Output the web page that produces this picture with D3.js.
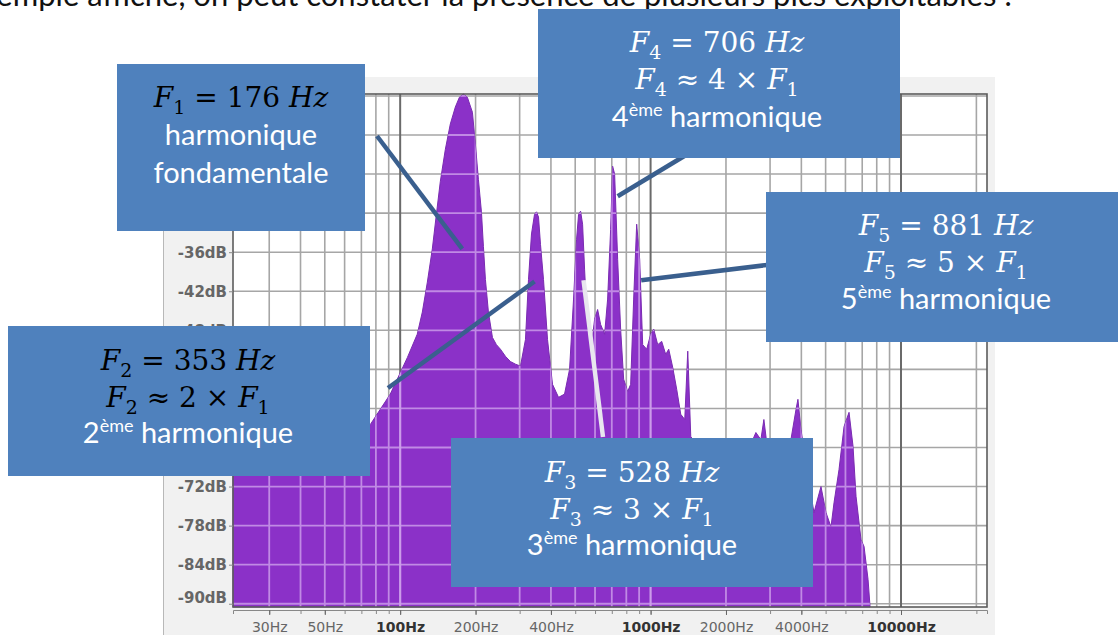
<!DOCTYPE html>
<html>
<head>
<meta charset="utf-8">
<script src="https://cdn.jsdelivr.net/npm/d3@7/dist/d3.min.js"></script>
<style>
	body { margin: 0; background: #fff; }
	svg { display: block; }
	text { white-space: pre; }
</style>
</head>
<body>
<div id="canvas"></div>
<script>
// spectrum: frequency in Hz, level in dB
var freqs = [21.5, 27.6, 39.9, 57.6, 75.9, 91.3, 106.8, 117, 122.6, 128.4, 134.4, 139.5, 144.7, 151.5, 158.6,
	166.1, 172.4, 178.8, 185.5, 194.3, 199.7, 205.3, 211.1, 215, 219, 225.1, 233.6, 242.3, 251.4, 263.3,
	275.7, 288.7, 302.3, 316.5, 325.4, 334.5, 343.9, 350.3, 356.8, 363.4, 373.6, 387.6, 405.9, 429, 453.3,
	474.7, 492.5, 506.3, 515.7, 525.3, 535.1, 545, 560.3, 581.4, 597.6, 614.4, 631.6, 655.3, 673.7, 692.5,
	705.4, 718.5, 738.7, 759.3, 780.6, 809.9, 832.6, 855.9, 879.9, 904.6, 929.9, 964.8, 1001, 1029, 1067.7,
	1107.7, 1149.3, 1181.5, 1225.8, 1271.9, 1319.6, 1369.1, 1407.5, 1446.9, 1515, 1661, 1907, 2190, 2514,
	2633, 2757, 2834, 2914, 3315, 3634, 3806, 3876, 3985, 4211, 4492, 4791, 5017, 5253, 5401, 5655, 5922,
	6201, 6433, 6614, 6925, 7119, 7387, 7524];
var levels = [-69.4, -68.2, -66.3, -64.8, -62.5, -57.8, -52.2, -48.6, -45.2, -40.6, -35.5, -30.2, -25.1, -20.2, -16.3,
	-13.7, -12.2, -11.7, -12.2, -14.5, -19.4, -24.8, -29.8, -35.1, -40.2, -45.2, -49.1, -50.2, -50.9, -52,
	-52.8, -53.2, -53.5, -49.4, -40.2, -33.2, -30.2, -29.8, -30.6, -34.8, -40.2, -49.4, -56.3, -58.3, -57.8,
	-54, -43.2, -34, -30.2, -29.7, -31.7, -38.6, -47.8, -50.2, -46.3, -44.8, -47.1, -48.6, -43.2, -32.5,
	-22.8, -24, -37.1, -47.8, -55.5, -57.4, -56.3, -43.2, -31.7, -37.1, -50.2, -50.9, -48.6, -47.8, -50.2,
	-49.7, -51.7, -50.9, -53.7, -57.1, -60.9, -61.7, -51.2, -64.3, -65.5, -67.8, -66.3, -67.1, -65.5,
	-63.7, -64.8, -61.7, -65.5, -66.3, -64.8, -60.2, -58.6, -63.2, -69.4, -76, -72, -76, -78.2, -74.5, -69.4, -62.8,
	-60.6, -65.8, -73.5, -80.2, -81.2, -86.3, -90.5];

var xTickLabels = [30, 50, 100, 200, 400, 1000, 2000, 4000, 10000];
var boldTicks = [100, 1000, 10000];
var yTicks = [-18, -24, -30, -36, -42, -48, -54, -60, -66, -72, -78, -84, -90];

// annotated harmonics: frequency / level where each pointer lands
var harmonics = [
	{ name: "1", f: 177, db: -35.5 },
	{ name: "2", f: 344, db: -40.5 },
	{ name: "3", f: 540, db: -40.3 },
	{ name: "4", f: 739, db: -27.4 },
	{ name: "5", f: 917, db: -40.3 }
];

var width = 1118, height = 635;
var plotLeft = 233, plotRight = 987, plotTop = 94, plotBottom = 607;

var svg = d3.select("#canvas").append("svg")
	.attr("width", width)
	.attr("height", height);

// sentence above, cut by the page edge
svg.append("text")
	.attr("x", 1012).attr("y", 6)
	.attr("text-anchor", "end")
	.style("font-family", "Lato").style("font-size", "31px").style("fill", "#111")
	.text("exemple affiché, on peut constater la présence de plusieurs pics exploitables :");

var x = d3.scaleLog().domain([21.5, 22050]).range([plotLeft, plotRight]);
var y = d3.scaleLinear().domain([-90.5, -11.7]).range([plotBottom, plotTop]);

// grid frequencies 1..9 x 10^n inside the domain
var gridFreqs = [];
[10, 100, 1000, 10000].forEach(function (dec) {
	for (var k = 1; k < 10; k++) {
		var f = k * dec;
		if (f > 21.5 && f < 22050) gridFreqs.push(f);
	}
});
var gridLevels = yTicks.concat([-12]);

// panel
svg.append("rect").attr("x", 163).attr("y", 77).attr("width", 832).attr("height", 558)
	.style("fill", "#f1f1f1");
svg.append("line").attr("x1", 163.5).attr("x2", 163.5).attr("y1", 77).attr("y2", 635)
	.style("stroke", "#b8b8b8");
svg.append("rect").attr("x", plotLeft).attr("y", plotTop)
	.attr("width", plotRight - plotLeft).attr("height", plotBottom - plotTop)
	.style("fill", "#fff");

function drawGrid(g, minor, major, w) {
	g.selectAll(".hg").data(gridLevels).enter().append("line")
		.attr("x1", plotLeft).attr("x2", plotRight)
		.attr("y1", function (d) { return y(d); }).attr("y2", function (d) { return y(d); })
		.style("stroke", minor).style("stroke-width", w);
	g.selectAll(".vg").data(gridFreqs).enter().append("line")
		.attr("x1", function (d) { return x(d); }).attr("x2", function (d) { return x(d); })
		.attr("y1", plotTop).attr("y2", plotBottom)
		.style("stroke", function (d) { return boldTicks.indexOf(d) >= 0 ? major : minor; })
		.style("stroke-width", function (d) { return boldTicks.indexOf(d) >= 0 ? w + 0.4 : w; });
}

drawGrid(svg.append("g"), "#a6a6a6", "#6a6a6a", 1.6);

var spectrum = freqs.map(function (f, i) { return { f: f, db: levels[i] }; });

var area = d3.area()
	.x(function (d) { return x(d.f); })
	.y0(plotBottom)
	.y1(function (d) { return y(d.db); });

svg.append("clipPath").attr("id", "specClip")
	.append("path").attr("d", area(spectrum));

svg.append("path")
	.attr("d", area(spectrum))
	.style("fill", "#8b31c8")
	.style("stroke", "#7a2bb2")
	.style("stroke-width", 1);

// grid seen through the fill
drawGrid(svg.append("g").attr("clip-path", "url(#specClip)"), "#c08ae4", "#cb9ce9", 1.8);

// frame
svg.append("rect").attr("x", plotLeft).attr("y", plotTop)
	.attr("width", plotRight - plotLeft).attr("height", plotBottom - plotTop)
	.style("fill", "none").style("stroke", "#5c5c5c").style("stroke-width", 1.6);

// axes
var xMinor = svg.append("g")
	.attr("transform", "translate(0," + (plotBottom + 3) + ")")
	.call(d3.axisBottom(x).tickValues(gridFreqs).tickSize(4).tickFormat(""));
xMinor.select(".domain").style("stroke", "#888");
xMinor.selectAll(".tick line").style("stroke", "#888");

var xAxis = svg.append("g")
	.attr("transform", "translate(0," + (plotBottom + 3) + ")")
	.call(d3.axisBottom(x).tickValues(xTickLabels).tickSize(5).tickPadding(7)
		.tickFormat(function (d) { return d + "Hz"; }));
xAxis.select(".domain").remove();
xAxis.selectAll(".tick line").style("stroke", "#666");
xAxis.selectAll("text")
	.style("font-family", "DejaVu Sans").style("font-size", "14px")
	.style("font-weight", function (d) { return boldTicks.indexOf(d) >= 0 ? "bold" : "normal"; })
	.style("fill", function (d) { return boldTicks.indexOf(d) >= 0 ? "#333" : "#666"; });

var yAxis = svg.append("g")
	.attr("transform", "translate(" + plotLeft + ",0)")
	.call(d3.axisLeft(y).tickValues(yTicks).tickSize(4).tickPadding(2)
		.tickFormat(function (d) { return d + "dB"; }));
yAxis.select(".domain").remove();
yAxis.selectAll(".tick line").style("stroke", "#888");
yAxis.selectAll("text")
	.style("font-family", "DejaVu Sans").style("font-size", "15px").style("font-weight", "bold")
	.style("fill", "#666");
yAxis.selectAll(".tick").filter(function (d) { return d == -90; }).select("text").attr("dy", "-0.05em");

// pointers from the boxes to the peaks
var pointers = [
	{ h: 0, x0: 377, y0: 136, color: "#3a5f8e" },
	{ h: 1, x0: 388, y0: 388, color: "#3a5f8e" },
	{ h: 2, x0: 603, y0: 437, color: "#e8e6ee" },
	{ h: 3, x0: 686, y0: 155, color: "#3a5f8e" },
	{ h: 4, x0: 767, y0: 265, color: "#3a5f8e" }
];
svg.selectAll(".pointer").data(pointers).enter().append("line")
	.attr("x1", function (d) { return d.x0; })
	.attr("y1", function (d) { return d.y0; })
	.attr("x2", function (d) { return x(harmonics[d.h].f); })
	.attr("y2", function (d) { return y(harmonics[d.h].db); })
	.style("stroke", function (d) { return d.color; })
	.style("stroke-width", 4.5);

// boxes. segment kinds: i = math italic, m = math upright, s = math subscript,
// t = text, u = text superscript
var boxes = [
	{ x: 117, y: 64, w: 248, h: 167, cx: 241, base: [107, 145, 183], mathFill: "#000",
		lines: [[["F", "i"], ["1", "s"], [" = 176 ", "m"], ["Hz", "i"]],
			[["harmonique", "t"]],
			[["fondamentale", "t"]]] },
	{ x: 538, y: 9, w: 362, h: 149, cx: 717, base: [52, 89, 127], mathFill: "#fff",
		lines: [[["F", "i"], ["4", "s"], [" = 706 ", "m"], ["Hz", "i"]],
			[["F", "i"], ["4", "s"], [" ≈ 4 × ", "m"], ["F", "i"], ["1", "s"]],
			[["4", "t"], ["ème", "u"], [" harmonique", "t"]]] },
	{ x: 766, y: 192, w: 352, h: 150, cx: 946, base: [235, 272, 309], mathFill: "#fff",
		lines: [[["F", "i"], ["5", "s"], [" = 881 ", "m"], ["Hz", "i"]],
			[["F", "i"], ["5", "s"], [" ≈ 5 × ", "m"], ["F", "i"], ["1", "s"]],
			[["5", "t"], ["ème", "u"], [" harmonique", "t"]]] },
	{ x: 8, y: 326, w: 362, h: 150, cx: 188, base: [370, 407, 443], mathFill: "#000",
		lines: [[["F", "i"], ["2", "s"], [" = 353 ", "m"], ["Hz", "i"]],
			[["F", "i"], ["2", "s"], [" ≈ 2 × ", "m"], ["F", "i"], ["1", "s"]],
			[["2", "t"], ["ème", "u"], [" harmonique", "t"]]] },
	{ x: 451, y: 438, w: 362, h: 149, cx: 632, base: [482, 519, 555], mathFill: "#fff",
		lines: [[["F", "i"], ["3", "s"], [" = 528 ", "m"], ["Hz", "i"]],
			[["F", "i"], ["3", "s"], [" ≈ 3 × ", "m"], ["F", "i"], ["1", "s"]],
			[["3", "t"], ["ème", "u"], [" harmonique", "t"]]] }
];

function drawLine(g, cx, base, segs, mathFill) {
	var t = g.append("text").attr("x", cx).attr("y", base).attr("text-anchor", "middle");
	var shift = 0;
	segs.forEach(function (s) {
		var kind = s[1];
		var target = kind == "s" ? 7 : (kind == "u" ? -11 : 0);
		var sp = t.append("tspan").text(s[0]);
		if (target != shift) sp.attr("dy", target - shift);
		shift = target;
		if (kind == "t" || kind == "u") {
			sp.style("font-family", "Lato").style("fill", "#fff")
				.style("font-size", kind == "u" ? "18px" : "29px");
		} else {
			sp.style("font-family", "DejaVu Serif").style("fill", mathFill)
				.style("font-style", kind == "i" ? "italic" : "normal")
				.style("font-size", kind == "s" ? "19px" : "28px");
		}
	});
}

boxes.forEach(function (b) {
	var g = svg.append("g");
	g.append("rect").attr("x", b.x).attr("y", b.y).attr("width", b.w).attr("height", b.h)
		.style("fill", "#4f81bd");
	b.lines.forEach(function (segs, i) {
		drawLine(g, b.cx, b.base[i], segs, b.mathFill);
	});
});
</script>
</body>
</html>
